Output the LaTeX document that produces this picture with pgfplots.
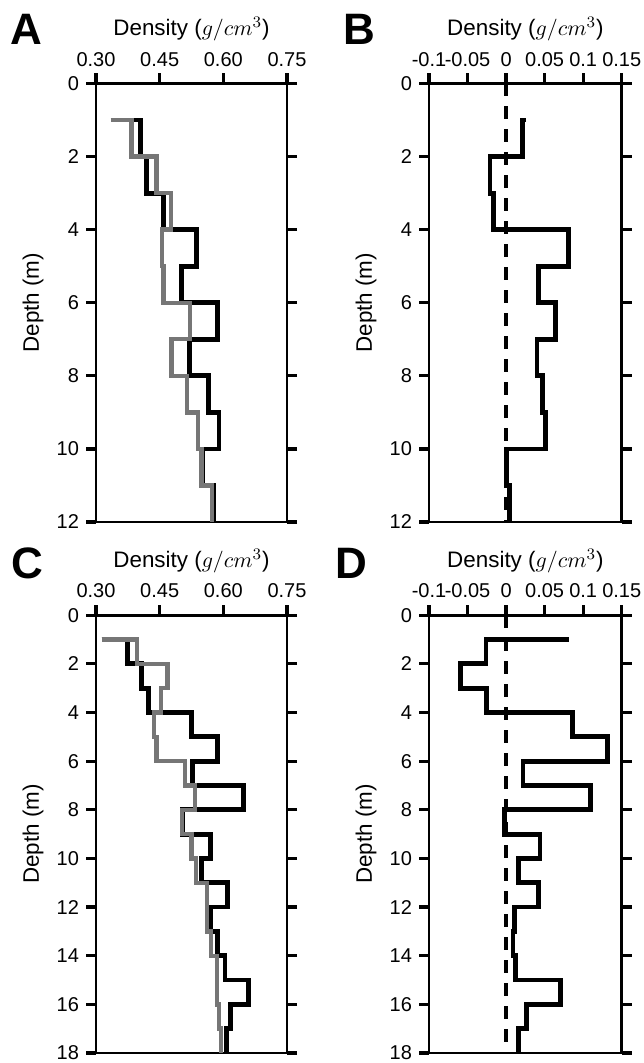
\documentclass[border=0pt]{standalone}
\usepackage{fontspec}
\setmainfont{Liberation Sans}
\usepackage{pgfplots}
\pgfplotsset{compat=1.18}
\definecolor{midgray}{RGB}{118,118,118}

\pgfplotsset{
  panel/.style={
    scale only axis, anchor=south west,
    width=95.5pt,
    y dir=reverse, ymin=0,
    axis line style={line width=1.4pt},
    xtick pos=upper, xticklabel pos=upper,
    ytick pos=both, yticklabel pos=left,
    tick align=outside, major tick length=5pt,
    tick style={line width=1.6pt, black},
    tick label style={font=\fontsize{10}{11}\selectfont},
    label style={font=\fontsize{11.2}{12}\selectfont},
    /pgf/number format/assume math mode=true,
    xlabel={Density ($g/cm^3$)},
    ylabel={Depth (m)},
    xlabel style={at={(axis description cs:0.5,1)}, anchor=base, yshift=24pt},
    ylabel style={at={(axis description cs:0,0.5)}, anchor=center, yshift=31.5pt},
  },
  absx/.style={xmin=0.3, xmax=0.75, xtick={0.3,0.45,0.6,0.75},
    xticklabels={0.30,0.45,0.60,0.75}},
  difx/.style={xmin=-0.1, xmax=0.15, xtick={-0.1,-0.05,0,0.05,0.1,0.15},
    xticklabels={-0.1,-0.05,0,0.05,0.1,0.15}},
  blk/.style={black, line width=2.4pt, line join=miter},
  gry/.style={midgray, line width=2.2pt, line join=miter},
  zero/.style={black, line width=2.4pt, dash pattern=on 6.5pt off 5pt},
}

\begin{document}
\begin{tikzpicture}
\useasboundingbox (0,0) rectangle (321.5pt,531.5pt);

% A
\begin{axis}[panel, absx, at={(48pt,270.5pt)}, height=219.25pt, ymax=12, ytick={0,2,...,12}]
\addplot[blk] coordinates {
(0.335,1) (0.404,1) (0.404,2) (0.419,2) (0.419,3) (0.459,3) (0.459,4) (0.537,4)
(0.537,5) (0.502,5) (0.502,6) (0.587,6) (0.587,7) (0.521,7) (0.521,8) (0.565,8)
(0.565,9) (0.590,9) (0.590,10) (0.550,10) (0.550,11) (0.576,11) (0.576,12)
};
\addplot[gry] coordinates {
(0.335,1) (0.384,1) (0.384,2) (0.443,2) (0.443,3) (0.476,3) (0.476,4) (0.456,4)
(0.456,5) (0.459,5) (0.459,6) (0.521,6) (0.521,7) (0.478,7) (0.478,8) (0.515,8)
(0.515,9) (0.541,9) (0.541,10) (0.549,10) (0.549,11) (0.573,11) (0.573,12)
};
\end{axis}

% B
\begin{axis}[panel, difx, at={(214.5pt,270.5pt)}, width=96.35pt, height=219.25pt, ymax=12, ytick={0,2,...,12}]
\addplot[zero] coordinates {(0,0) (0,12)};
\addplot[blk] coordinates {
(0.026,1) (0.021,1) (0.021,2) (-0.021,2) (-0.021,3) (-0.016,3) (-0.016,4) (0.081,4)
(0.081,5) (0.042,5) (0.042,6) (0.064,6) (0.064,7) (0.040,7) (0.040,8) (0.047,8)
(0.047,9) (0.051,9) (0.051,10) (0.001,10) (0.001,11) (0.004,11) (0.004,12)
};
\end{axis}

% C
\begin{axis}[panel, absx, at={(48pt,5pt)}, height=218.9pt, ymax=18, ytick={0,2,...,18}]
\addplot[blk] coordinates {
(0.313,1) (0.375,1) (0.375,2) (0.408,2) (0.408,3) (0.423,3) (0.423,4) (0.525,4)
(0.525,5) (0.587,5) (0.587,6) (0.528,6) (0.528,7) (0.647,7) (0.647,8) (0.504,8)
(0.504,9) (0.570,9) (0.570,10) (0.549,10) (0.549,11) (0.610,11) (0.610,12) (0.570,12)
(0.570,13) (0.586,13) (0.586,14) (0.604,14) (0.604,15) (0.659,15) (0.659,16) (0.616,16)
(0.616,17) (0.608,17) (0.608,18)
};
\addplot[gry] coordinates {
(0.313,1) (0.396,1) (0.396,2) (0.468,2) (0.468,3) (0.453,3) (0.453,4) (0.437,4)
(0.437,5) (0.443,5) (0.443,6) (0.510,6) (0.510,7) (0.533,7) (0.533,8) (0.503,8)
(0.503,9) (0.525,9) (0.525,10) (0.536,10) (0.536,11) (0.562,11) (0.562,13) (0.571,13)
(0.571,14) (0.585,14) (0.585,16) (0.590,16) (0.590,17) (0.594,17) (0.594,18)
};
\end{axis}

% D
\begin{axis}[panel, difx, at={(214.5pt,5pt)}, width=96.35pt, height=218.9pt, ymax=18, ytick={0,2,...,18}]
\addplot[zero] coordinates {(0,0) (0,18)};
\addplot[blk] coordinates {
(0.081,1) (-0.026,1) (-0.026,2) (-0.059,2) (-0.059,3) (-0.025,3) (-0.025,4) (0.086,4)
(0.086,5) (0.132,5) (0.132,6) (0.022,6) (0.022,7) (0.110,7) (0.110,8) (-0.002,8)
(-0.002,9) (0.044,9) (0.044,10) (0.016,10) (0.016,11) (0.042,11) (0.042,12) (0.011,12)
(0.011,13) (0.009,13) (0.009,14) (0.012,14) (0.012,15) (0.071,15) (0.071,16) (0.026,16)
(0.026,17) (0.016,17) (0.016,18)
};
\end{axis}

\node[font=\fontsize{22}{23}\selectfont\bfseries] at (13pt,517pt) {A};
\node[font=\fontsize{22}{23}\selectfont\bfseries] at (179.5pt,517pt) {B};
\node[font=\fontsize{22}{23}\selectfont\bfseries] at (13.5pt,249.8pt) {C};
\node[font=\fontsize{22}{23}\selectfont\bfseries] at (175.5pt,249.8pt) {D};
\end{tikzpicture}
\end{document}
